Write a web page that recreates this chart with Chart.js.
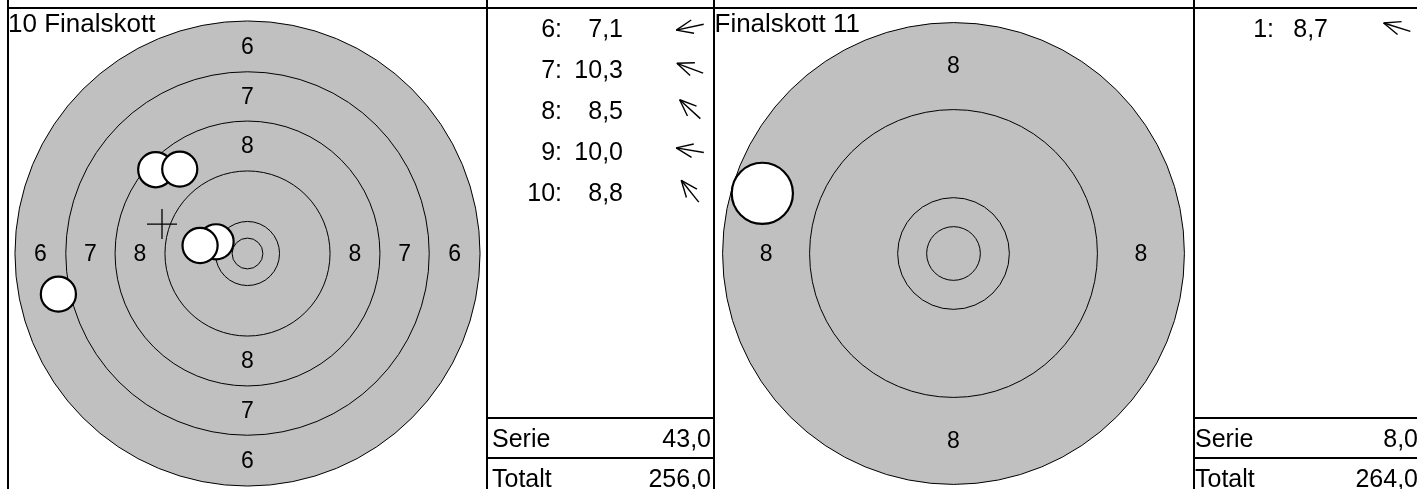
<!DOCTYPE html>
<html>
<head>
<meta charset="utf-8">
<script src="https://cdn.jsdelivr.net/npm/chart.js"></script>
<style>
  html, body { margin: 0; padding: 0; background: #fff; }
  body { width: 1417px; height: 489px; position: relative; overflow: hidden;
         font-family: "Liberation Sans", Arial, sans-serif; color: #000; }
  .line { position: absolute; background: #000; }
  .txt { position: absolute; white-space: nowrap; }
  canvas { position: absolute; }
  svg { position: absolute; left: 0; top: 0; }
</style>
</head>
<body>
<canvas id="leftTarget" width="471" height="471" style="left:12px;top:18px"></canvas>
<canvas id="rightTarget" width="471" height="471" style="left:718px;top:18px"></canvas>
<svg id="arrows" width="1417" height="489"></svg>
<script>
// air pistol rings, radius in mm
const ringNames = ["6", "7", "8", "9", "10", "X"];
const ringRadii = [37.75, 29.5, 21.5, 13.4, 5.2, 2.5];
const pelletRadius = 2.85;

// 10 Finalskott
const leftShotNumbers = [6, 7, 8, 9, 10];
const leftScores = [7.1, 10.3, 8.5, 10.0, 8.8];
const leftShotX = [-30.7, -5.1, -14.9, -7.7, -11.0];
const leftShotY = [-6.6, 1.9, 13.6, 1.3, 13.7];
const leftSerie = 43.0;
const leftTotal = 256.0;

// Finalskott 11
const rightShotNumbers = [1];
const rightScores = [8.7];
const rightShotX = [-17.8];
const rightShotY = [5.6];
const rightSerie = 8.0;
const rightTotal = 264.0;

const fmt = v => v.toFixed(1).replace(".", ",");

function mmToPx(chart, mm) {
  const s = chart.scales.x;
  return Math.abs(s.getPixelForValue(mm) - s.getPixelForValue(0));
}

function labelPlugin(names) {
  return {
    id: "ringLabels",
    afterDatasetDraw(chart, args) {
      if (args.index !== 2) return;
      const ctx = chart.ctx;
      const sx = chart.scales.x, sy = chart.scales.y;
      ctx.save();
      ctx.font = "23px 'Liberation Sans', Arial, sans-serif";
      ctx.fillStyle = "#000";
      ctx.textAlign = "center";
      ctx.textBaseline = "middle";
      names.forEach(name => {
        const i = ringNames.indexOf(name);
        const r = (ringRadii[i] + ringRadii[i + 1]) / 2;
        [[0, r], [0, -r], [-r, 0], [r, 0]].forEach(p => {
          ctx.fillText(name, sx.getPixelForValue(p[0]), sy.getPixelForValue(p[1]) + 1);
        });
      });
      ctx.restore();
    }
  };
}

function makeTarget(id, xs, ys, half, firstRing, labelNames) {
  const radii = ringRadii.slice(firstRing);
  const mean = xs.length > 1 ? [{
    x: xs.reduce((a, b) => a + b, 0) / xs.length,
    y: ys.reduce((a, b) => a + b, 0) / ys.length
  }] : [];
  new Chart(document.getElementById(id), {
    type: "scatter",
    data: {
      datasets: [
        {
          data: xs.map((x, i) => ({ x: x, y: ys[i] })),
          pointRadius: c => mmToPx(c.chart, pelletRadius),
          pointBackgroundColor: "#fff",
          pointBorderColor: "#000",
          pointBorderWidth: 2.2,
          clip: false
        },
        {
          data: mean,
          pointStyle: "cross",
          pointRadius: 15,
          pointBorderColor: "#000",
          pointBorderWidth: 1.3,
          clip: false
        },
        {
          data: radii.map(() => ({ x: 0, y: 0 })),
          pointRadius: c => mmToPx(c.chart, radii[c.dataIndex]),
          pointBackgroundColor: "#c0c0c0",
          pointBorderColor: "#000",
          pointBorderWidth: 1,
          clip: false
        }
      ]
    },
    options: {
      responsive: false,
      animation: false,
      events: [],
      layout: { padding: 0, autoPadding: false },
      plugins: { legend: { display: false }, tooltip: { enabled: false } },
      scales: {
        x: { type: "linear", min: -half, max: half, display: false },
        y: { type: "linear", min: -half, max: half, display: false }
      }
    },
    plugins: [labelPlugin(labelNames)]
  });
}

makeTarget("leftTarget", leftShotX, leftShotY, 235.5 / 6.16, 0, ["6", "7", "8"]);
makeTarget("rightTarget", rightShotX, rightShotY, 235.5 / 10.74, 2, ["8"]);

// frame lines
function addLine(x, y, w, h) {
  const d = document.createElement("div");
  d.className = "line";
  Object.assign(d.style, { left: x + "px", top: y + "px", width: w + "px", height: h + "px" });
  document.body.appendChild(d);
}
addLine(8, 7, 1409, 2);
[8, 487, 714, 1194].forEach(x => addLine(x - 1, 0, 2, 489));
addLine(487, 417, 227, 2);
addLine(487, 457, 227, 2);
addLine(1194, 417, 223, 2);
addLine(1194, 457, 223, 2);

// text placed by baseline
function addText(str, x, baseline, size, align) {
  const d = document.createElement("div");
  d.className = "txt";
  d.textContent = str;
  d.style.fontSize = size + "px";
  d.style.lineHeight = size + "px";
  d.style.top = (baseline - 0.8465 * size) + "px";
  if (align === "right") {
    d.style.left = (x - 300) + "px";
    d.style.width = "300px";
    d.style.textAlign = "right";
  } else {
    d.style.left = x + "px";
  }
  document.body.appendChild(d);
}

addText("10 Finalskott", 8, 31.7, 26);
addText("Finalskott 11", 714.5, 31.7, 26);

const svg = document.getElementById("arrows");
function addArrow(cx, cy, dx, dy) {
  const len = Math.hypot(dx, dy);
  const ux = dx / len, uy = -dy / len;
  const tip = [cx + 14 * ux, cy + 14 * uy];
  const tail = [cx - 14 * ux, cy - 14 * uy];
  const segs = [[tail, tip]];
  [22, -22].forEach(a => {
    const r = a * Math.PI / 180;
    const hx = ux * Math.cos(r) - uy * Math.sin(r);
    const hy = ux * Math.sin(r) + uy * Math.cos(r);
    segs.push([tip, [tip[0] - 18 * hx, tip[1] - 18 * hy]]);
  });
  segs.forEach(s => {
    const l = document.createElementNS("http://www.w3.org/2000/svg", "line");
    l.setAttribute("x1", s[0][0]); l.setAttribute("y1", s[0][1]);
    l.setAttribute("x2", s[1][0]); l.setAttribute("y2", s[1][1]);
    l.setAttribute("stroke", "#000");
    l.setAttribute("stroke-width", "1.4");
    svg.appendChild(l);
  });
}

function addPanel(px, textLeft, labelRight, valueRight, nums, scores, xs, ys, serie, total) {
  nums.forEach((n, i) => {
    const base = 36.7 + 41 * i;
    addText(n + ":", labelRight, base, 25, "right");
    addText(fmt(scores[i]), valueRight, base, 25, "right");
    addArrow(px + 203, base - 9.5, xs[i], ys[i]);
  });
  addText("Serie", textLeft, 446.7, 25);
  addText(fmt(serie), px + 224, 446.7, 25, "right");
  addText("Totalt", textLeft, 486.7, 25);
  addText(fmt(total), px + 224, 486.7, 25, "right");
}

addPanel(487, 492, 562, 623, leftShotNumbers, leftScores, leftShotX, leftShotY, leftSerie, leftTotal);
addPanel(1194, 1195, 1274, 1328, rightShotNumbers, rightScores, rightShotX, rightShotY, rightSerie, rightTotal);
</script>
</body>
</html>
